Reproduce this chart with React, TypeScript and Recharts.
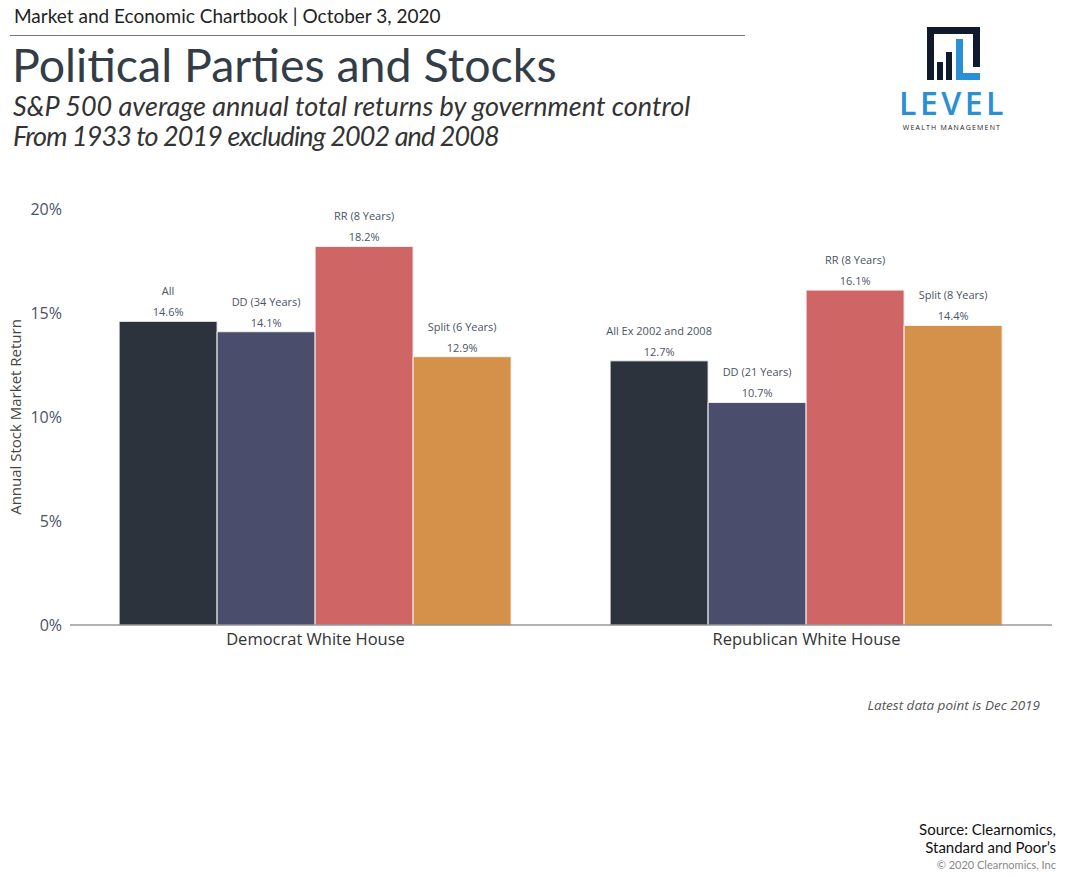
import React from "react";
import { Bar, BarChart, LabelList, XAxis, YAxis } from "recharts";

const categories = ["Democrat White House", "Republican White House"];
const allValues = [14.6, 12.7];
const ddValues = [14.1, 10.7];
const rrValues = [18.2, 16.1];
const splitValues = [12.9, 14.4];

const allNames = ["All", "All Ex 2002 and 2008"];
const ddNames = ["DD (34 Years)", "DD (21 Years)"];
const rrNames = ["RR (8 Years)", "RR (8 Years)"];
const splitNames = ["Split (6 Years)", "Split (8 Years)"];

const yTicks = [0, 5, 10, 15, 20];

const data = categories.map((c, i) => ({
  category: c,
  all: allValues[i],
  dd: ddValues[i],
  rr: rrValues[i],
  split: splitValues[i],
}));

const series = [
  { key: "all", names: allNames, color: "#2c333c" },
  { key: "dd", names: ddNames, color: "#4a4d6b" },
  { key: "rr", names: rrNames, color: "#cf6665" },
  { key: "split", names: splitNames, color: "#d5904a" },
];

const font = "'Open Sans', sans-serif";
const headFont = "Lato, sans-serif";

function makeLabel(names: string[]) {
  return (props: any) => {
    const { x, y, width, value, index } = props;
    const cx = Number(x) + Number(width) / 2;
    return (
      <g>
        <text x={cx} y={Number(y) - 26} textAnchor="middle" fontSize={11} fill="#4b5365" fontFamily={font}>
          {names[index]}
        </text>
        <text x={cx} y={Number(y) - 5} textAnchor="middle" fontSize={11} fill="#4b5365" fontFamily={font}>
          {`${Number(value).toFixed(1)}%`}
        </text>
      </g>
    );
  };
}

function Logo() {
  const navy = "#0f1b2d";
  const blue = "#2a8fd3";
  return (
    <svg width={140} height={120} style={{ position: "absolute", left: 885, top: 18 }}>
      <g transform="translate(-885,-18)">
        <path d={`M927 27 H980 V67 H973 V34 H934 V80 H927 Z`} fill={navy} />
        <rect x={937} y={62} width={6} height={18} fill={navy} />
        <rect x={946} y={52} width={6} height={28} fill={navy} />
        <path d={`M956 39 H963 V73 H980 V80 H956 Z`} fill={blue} />
        <text x={953} y={115} textAnchor="middle" fontSize={32} fontWeight={600} fontFamily="'Open Sans', sans-serif" fill={blue} letterSpacing={3.5}>
          LEVEL
        </text>
        <text x={952} y={130} textAnchor="middle" fontSize={7} fontFamily="'Open Sans', sans-serif" fill="#222" letterSpacing={1.2}>
          WEALTH MANAGEMENT
        </text>
      </g>
    </svg>
  );
}

export default function App() {
  return (
    <div style={{ position: "absolute", left: 0, top: 0, width: 1065, height: 877, background: "#fff", overflow: "hidden" }}>
      <div style={{ position: "absolute", left: 14, top: 4, fontFamily: headFont, fontSize: 19, color: "#222", whiteSpace: "nowrap" }}>
        Market and Economic Chartbook | October 3, 2020
      </div>
      <div style={{ position: "absolute", left: 10, top: 35, width: 735, height: 1, background: "#777" }} />
      <div style={{ position: "absolute", left: 12, top: 36, fontFamily: headFont, fontSize: 46.5, color: "#333d47", whiteSpace: "nowrap" }}>
        Political Parties and Stocks
      </div>
      <div style={{ position: "absolute", left: 13, top: 91, fontFamily: headFont, fontStyle: "italic", fontSize: 27, color: "#333", lineHeight: "30px", whiteSpace: "nowrap" }}>
        S&amp;P 500 average annual total returns by government control
        <br />
        <span style={{ letterSpacing: -0.9 }}>From 1933 to 2019 excluding 2002 and 2008</span>
      </div>
      <Logo />

      <div style={{ position: "absolute", left: 0, top: 0 }}>
        <BarChart
          width={1065}
          height={877}
          data={data}
          margin={{ top: 209, right: 13, bottom: 222, left: 0 }}
          barCategoryGap="10%"
          barGap={0}
        >
          <XAxis
            dataKey="category"
            axisLine={{ stroke: "#666" }}
            tickLine={false}
            tick={{ fontSize: 16.5, fill: "#333", fontFamily: font }}
            tickMargin={2}
          />
          <YAxis
            domain={[0, 20]}
            ticks={yTicks}
            width={70}
            axisLine={false}
            tickLine={false}
            tickFormatter={(v: number) => `${v}%`}
            tick={{ fontSize: 16, fill: "#4b5365", fontFamily: font }}
            label={{
              value: "Annual Stock Market Return",
              angle: -90,
              position: "insideLeft",
              offset: 16,
              style: { textAnchor: "middle", fontSize: 15, fill: "#444", fontFamily: font },
            }}
          />
          {series.map((s) => (
            <Bar key={s.key} dataKey={s.key} fill={s.color} stroke="#f2f2f2" strokeWidth={1} isAnimationActive={false}>
              <LabelList dataKey={s.key} content={makeLabel(s.names)} />
            </Bar>
          ))}
        </BarChart>
      </div>

      <div style={{ position: "absolute", right: 25, top: 696, fontFamily: font, fontStyle: "italic", fontSize: 13.5, color: "#555" }}>
        Latest data point is Dec 2019
      </div>
      <div style={{ position: "absolute", right: 9, top: 820, fontFamily: headFont, fontSize: 15, color: "#111", textAlign: "right", lineHeight: "18px" }}>
        Source: Clearnomics,
        <br />
        Standard and Poor’s
      </div>
      <div style={{ position: "absolute", right: 9, top: 858, fontFamily: headFont, fontSize: 11, color: "#888" }}>
        © 2020 Clearnomics, Inc
      </div>
    </div>
  );
}
